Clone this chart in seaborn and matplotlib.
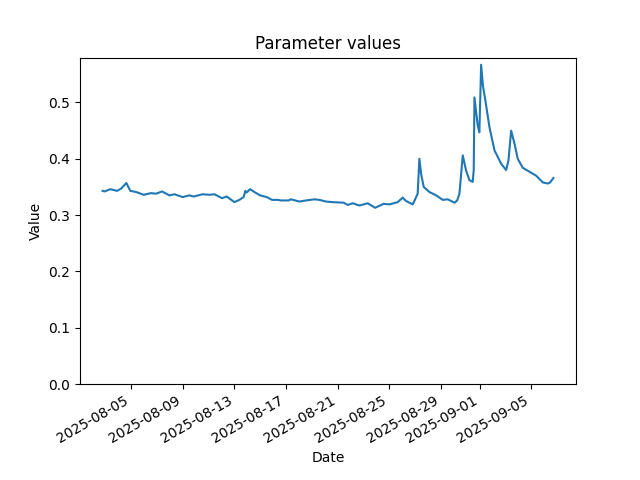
import pandas as pd
import matplotlib
matplotlib.use('Agg')
import matplotlib.pyplot as plt
import seaborn as sns

# values
dates = [
    "2025-08-02 19:00", "2025-08-02 23:00", "2025-08-03 09:30", "2025-08-03 22:00",
    "2025-08-04 05:30", "2025-08-04 15:15", "2025-08-04 22:40", "2025-08-05 09:20",
    "2025-08-05 23:30", "2025-08-06 13:10", "2025-08-06 22:30", "2025-08-07 09:40",
    "2025-08-07 23:15", "2025-08-08 08:35", "2025-08-09 00:00", "2025-08-09 12:25",
    "2025-08-09 20:25", "2025-08-10 13:10", "2025-08-11 01:40", "2025-08-11 11:00",
    "2025-08-12 01:15", "2025-08-12 09:50", "2025-08-13 00:15", "2025-08-13 09:20",
    "2025-08-13 17:25", "2025-08-13 20:35", "2025-08-13 23:00", "2025-08-14 05:20",
    "2025-08-14 13:20", "2025-08-15 00:00", "2025-08-15 12:15", "2025-08-15 22:15",
    "2025-08-16 08:40", "2025-08-16 15:00", "2025-08-17 05:00", "2025-08-17 09:35",
    "2025-08-18 01:00", "2025-08-18 13:25", "2025-08-19 05:00", "2025-08-19 14:10",
    "2025-08-20 02:40", "2025-08-20 15:00", "2025-08-21 11:30", "2025-08-21 19:00",
    "2025-08-22 04:10", "2025-08-22 16:40", "2025-08-23 08:00", "2025-08-23 21:50",
    "2025-08-24 13:50", "2025-08-25 00:30", "2025-08-25 15:50", "2025-08-26 01:10",
    "2025-08-26 07:30", "2025-08-26 19:45", "2025-08-27 00:45", "2025-08-27 05:00",
    "2025-08-27 08:10", "2025-08-27 11:25", "2025-08-27 16:15", "2025-08-28 02:50",
    "2025-08-28 15:20", "2025-08-29 03:40", "2025-08-29 13:00", "2025-08-30 01:30",
    "2025-08-30 06:30", "2025-08-30 10:40", "2025-08-30 16:50", "2025-08-30 23:05",
    "2025-08-31 05:15", "2025-08-31 11:20", "2025-08-31 13:15", "2025-08-31 14:35",
    "2025-08-31 20:30", "2025-08-31 23:45", "2025-09-01 03:00", "2025-09-01 06:20",
    "2025-09-01 11:00", "2025-09-01 18:30", "2025-09-02 03:50", "2025-09-02 16:20",
    "2025-09-03 01:30", "2025-09-03 05:50", "2025-09-03 10:50", "2025-09-03 17:00",
    "2025-09-03 23:05", "2025-09-04 08:25", "2025-09-04 20:50", "2025-09-05 09:20",
    "2025-09-05 21:40", "2025-09-06 07:00", "2025-09-06 11:20", "2025-09-06 17:30",
]
values = [
    0.343, 0.342, 0.346, 0.343,
    0.347, 0.357, 0.343, 0.341,
    0.336, 0.339, 0.338, 0.342,
    0.335, 0.337, 0.332, 0.335,
    0.333, 0.337, 0.336, 0.337,
    0.330, 0.333, 0.323, 0.327,
    0.332, 0.343, 0.340, 0.346,
    0.341, 0.335, 0.332, 0.327,
    0.327, 0.326, 0.326, 0.328,
    0.324, 0.326, 0.328, 0.327,
    0.324, 0.323, 0.322, 0.318,
    0.321, 0.317, 0.321, 0.313,
    0.320, 0.319, 0.323, 0.331,
    0.325, 0.319, 0.329, 0.338,
    0.400, 0.373, 0.350, 0.341,
    0.335, 0.327, 0.328, 0.322,
    0.326, 0.338, 0.406, 0.379,
    0.362, 0.359, 0.380, 0.509,
    0.460, 0.447, 0.567, 0.530,
    0.503, 0.456, 0.415, 0.391,
    0.380, 0.397, 0.450, 0.427,
    0.400, 0.384, 0.377, 0.370,
    0.358, 0.356, 0.358, 0.366,
]

df = pd.DataFrame({'Date': pd.to_datetime(dates), 'Value': values})

fig, ax = plt.subplots(figsize=(6.4, 4.8), dpi=100)
sns.lineplot(data=df, x='Date', y='Value', ax=ax, color='tab:blue', linewidth=1.5)
ax.set_ylim(bottom=0)
ax.set_title('Parameter values')
fig.autofmt_xdate()
fig.savefig('out.png', dpi=100)
